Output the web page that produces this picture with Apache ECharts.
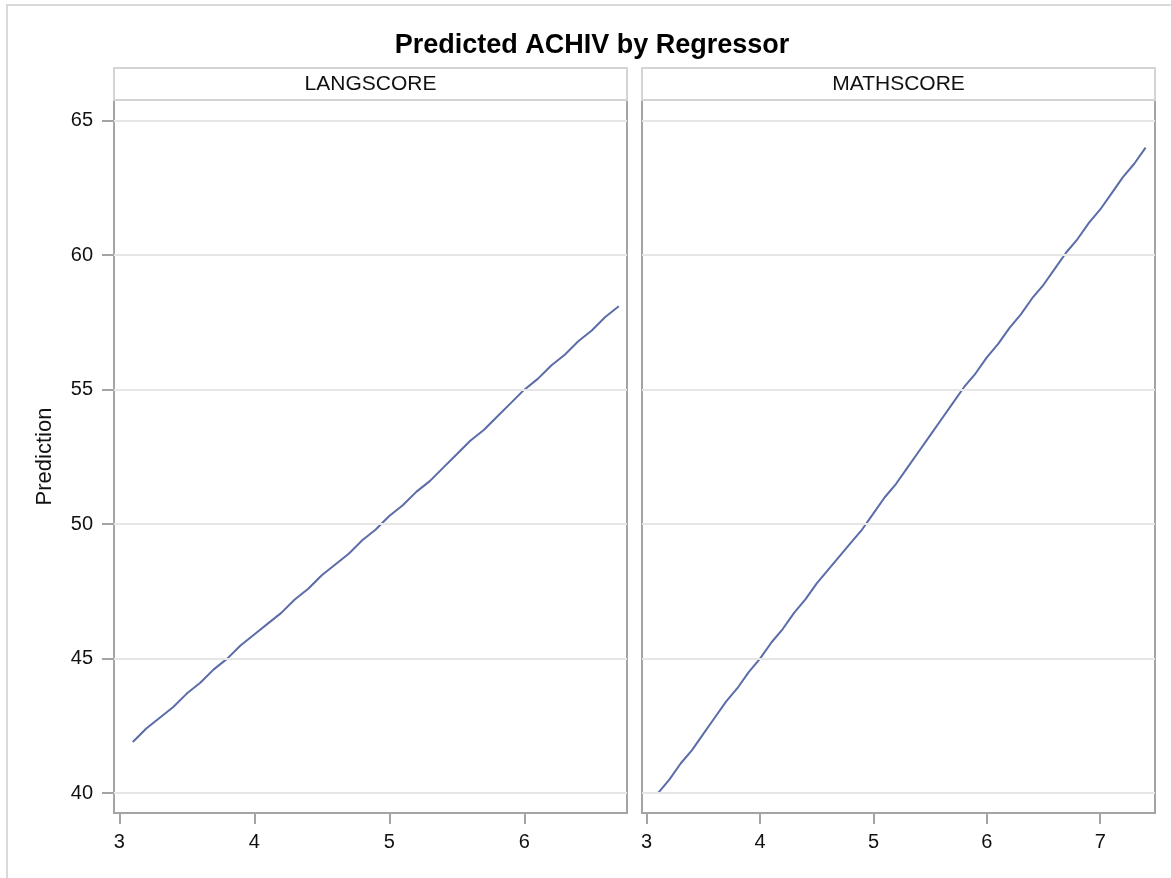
<!DOCTYPE html>
<html>
<head>
<meta charset="utf-8">
<script src="https://cdn.jsdelivr.net/npm/echarts@6/dist/echarts.min.js"></script>
<style>
html,body{margin:0;padding:0;background:#fff;}
#chart{width:1171px;height:878px;}
</style>
</head>
<body>
<div id="chart"></div>
<script>
// ---- data ----
const titleText = 'Predicted ACHIV by Regressor';
const panelNames = ['LANGSCORE', 'MATHSCORE'];
const yAxisName = 'Prediction';
const yTicks = [40, 45, 50, 55, 60, 65];
const langTicks = [3, 4, 5, 6];
const mathTicks = [3, 4, 5, 6, 7];

const langX = [3.1,3.2,3.3,3.4,3.5,3.6,3.7,3.8,3.9,4.0,4.1,4.2,4.3,4.4,4.5,4.6,4.7,4.8,4.9,5.0,
               5.1,5.2,5.3,5.4,5.5,5.6,5.7,5.8,5.9,6.0,6.1,6.2,6.3,6.4,6.5,6.6,6.7];
const langY = [41.9,42.4,42.8,43.2,43.7,44.1,44.6,45.0,45.5,45.9,46.3,46.7,47.2,47.6,48.1,48.5,48.9,49.4,49.8,50.3,
               50.7,51.2,51.6,52.1,52.6,53.1,53.5,54.0,54.5,55.0,55.4,55.9,56.3,56.8,57.2,57.7,58.1];

const mathX = [3.1,3.2,3.3,3.4,3.5,3.6,3.7,3.8,3.9,4.0,4.1,4.2,4.3,4.4,4.5,4.6,4.7,4.8,4.9,5.0,
               5.1,5.2,5.3,5.4,5.5,5.6,5.7,5.8,5.9,6.0,6.1,6.2,6.3,6.4,6.5,6.6,6.7,6.8,6.9,7.0,
               7.1,7.2,7.3,7.4];
const mathY = [40.0,40.5,41.1,41.6,42.2,42.8,43.4,43.9,44.5,45.0,45.6,46.1,46.7,47.2,47.8,48.3,48.8,49.3,49.8,50.4,
               51.0,51.5,52.1,52.7,53.3,53.9,54.5,55.1,55.6,56.2,56.7,57.3,57.8,58.4,58.9,59.5,60.1,60.6,61.2,61.7,
               62.3,62.9,63.4,64.0];

// ---- chart ----
const FONT = '"Liberation Sans", Arial, sans-serif';
const lineColor = '#5b6ca8';
const axisGrey = '#a4a4a4';
const gridGrey = '#e6e6e6';

const chart = echarts.init(document.getElementById('chart'), null, {renderer: 'canvas'});

const gridTop = 100, gridH = 713, gridW = 513;
const lefts = [114, 642];

function xAxisCfg(idx, min, max, ticks) {
  return {
    type: 'value', gridIndex: idx, min: min, max: max,
    axisLine: {show: false},
    splitLine: {show: false},
    axisTick: {show: true, length: 11, customValues: ticks, lineStyle: {color: axisGrey, width: 2}},
    axisLabel: {show: true, customValues: ticks, margin: 19, color: '#111', fontSize: 20, fontFamily: FONT}
  };
}
function yAxisCfg(idx, showLabels) {
  return {
    type: 'value', gridIndex: idx, min: 39.26, max: 65.77,
    name: showLabels ? yAxisName : '',
    nameLocation: 'middle', nameRotate: 90, nameGap: 58,
    nameTextStyle: {color: '#111', fontSize: 22, fontFamily: FONT},
    axisLine: {show: false},
    splitLine: {show: false},
    axisTick: {show: showLabels, length: 12, customValues: yTicks, lineStyle: {color: axisGrey, width: 2}},
    axisLabel: {show: showLabels, customValues: yTicks, margin: 21, color: '#111', fontSize: 20, fontFamily: FONT}
  };
}
function gridLines(idx) {
  return {
    type: 'line', xAxisIndex: idx, yAxisIndex: idx, data: [], z: 1, silent: true,
    markLine: {
      silent: true, symbol: 'none', label: {show: false}, animation: false,
      lineStyle: {color: gridGrey, width: 2, type: 'solid'},
      data: yTicks.map(v => ({yAxis: v}))
    }
  };
}
function lineSeries(idx, xs, ys) {
  return {
    type: 'line', xAxisIndex: idx, yAxisIndex: idx, z: 3,
    data: xs.map((x, i) => [x, ys[i]]),
    showSymbol: false, symbol: 'none',
    lineStyle: {color: lineColor, width: 2},
    animation: false
  };
}

const graphics = [
  {type: 'rect', shape: {x: 7, y: 5, width: 1300, height: 1000}, style: {fill: 'none', stroke: '#d9d9d9', lineWidth: 2}, z: 0, silent: true}
];
lefts.forEach((l, i) => {
  graphics.push({type: 'rect', shape: {x: l, y: 68, width: gridW, height: gridTop - 68},
    style: {fill: '#fff', stroke: '#d4d4d4', lineWidth: 2}, z: 1, silent: true});
  graphics.push({type: 'text', x: l + gridW / 2, y: 84,
    style: {text: panelNames[i], fill: '#111', font: '21px ' + FONT, textAlign: 'center', textVerticalAlign: 'middle'},
    z: 2, silent: true});
});

chart.setOption({
  animation: false,
  backgroundColor: '#fff',
  title: {
    text: titleText, left: 587, textAlign: 'center', top: 27,
    textStyle: {fontSize: 27, fontWeight: 'bold', color: '#000', fontFamily: FONT}
  },
  grid: lefts.map(l => ({
    left: l, top: gridTop, width: gridW, height: gridH,
    show: true, borderColor: axisGrey, borderWidth: 2, backgroundColor: 'transparent', containLabel: false
  })),
  xAxis: [xAxisCfg(0, 2.961, 6.761, langTicks), xAxisCfg(1, 2.959, 7.483, mathTicks)],
  yAxis: [yAxisCfg(0, true), yAxisCfg(1, false)],
  graphic: graphics,
  series: [gridLines(0), gridLines(1), lineSeries(0, langX, langY), lineSeries(1, mathX, mathY)]
});
</script>
</body>
</html>
